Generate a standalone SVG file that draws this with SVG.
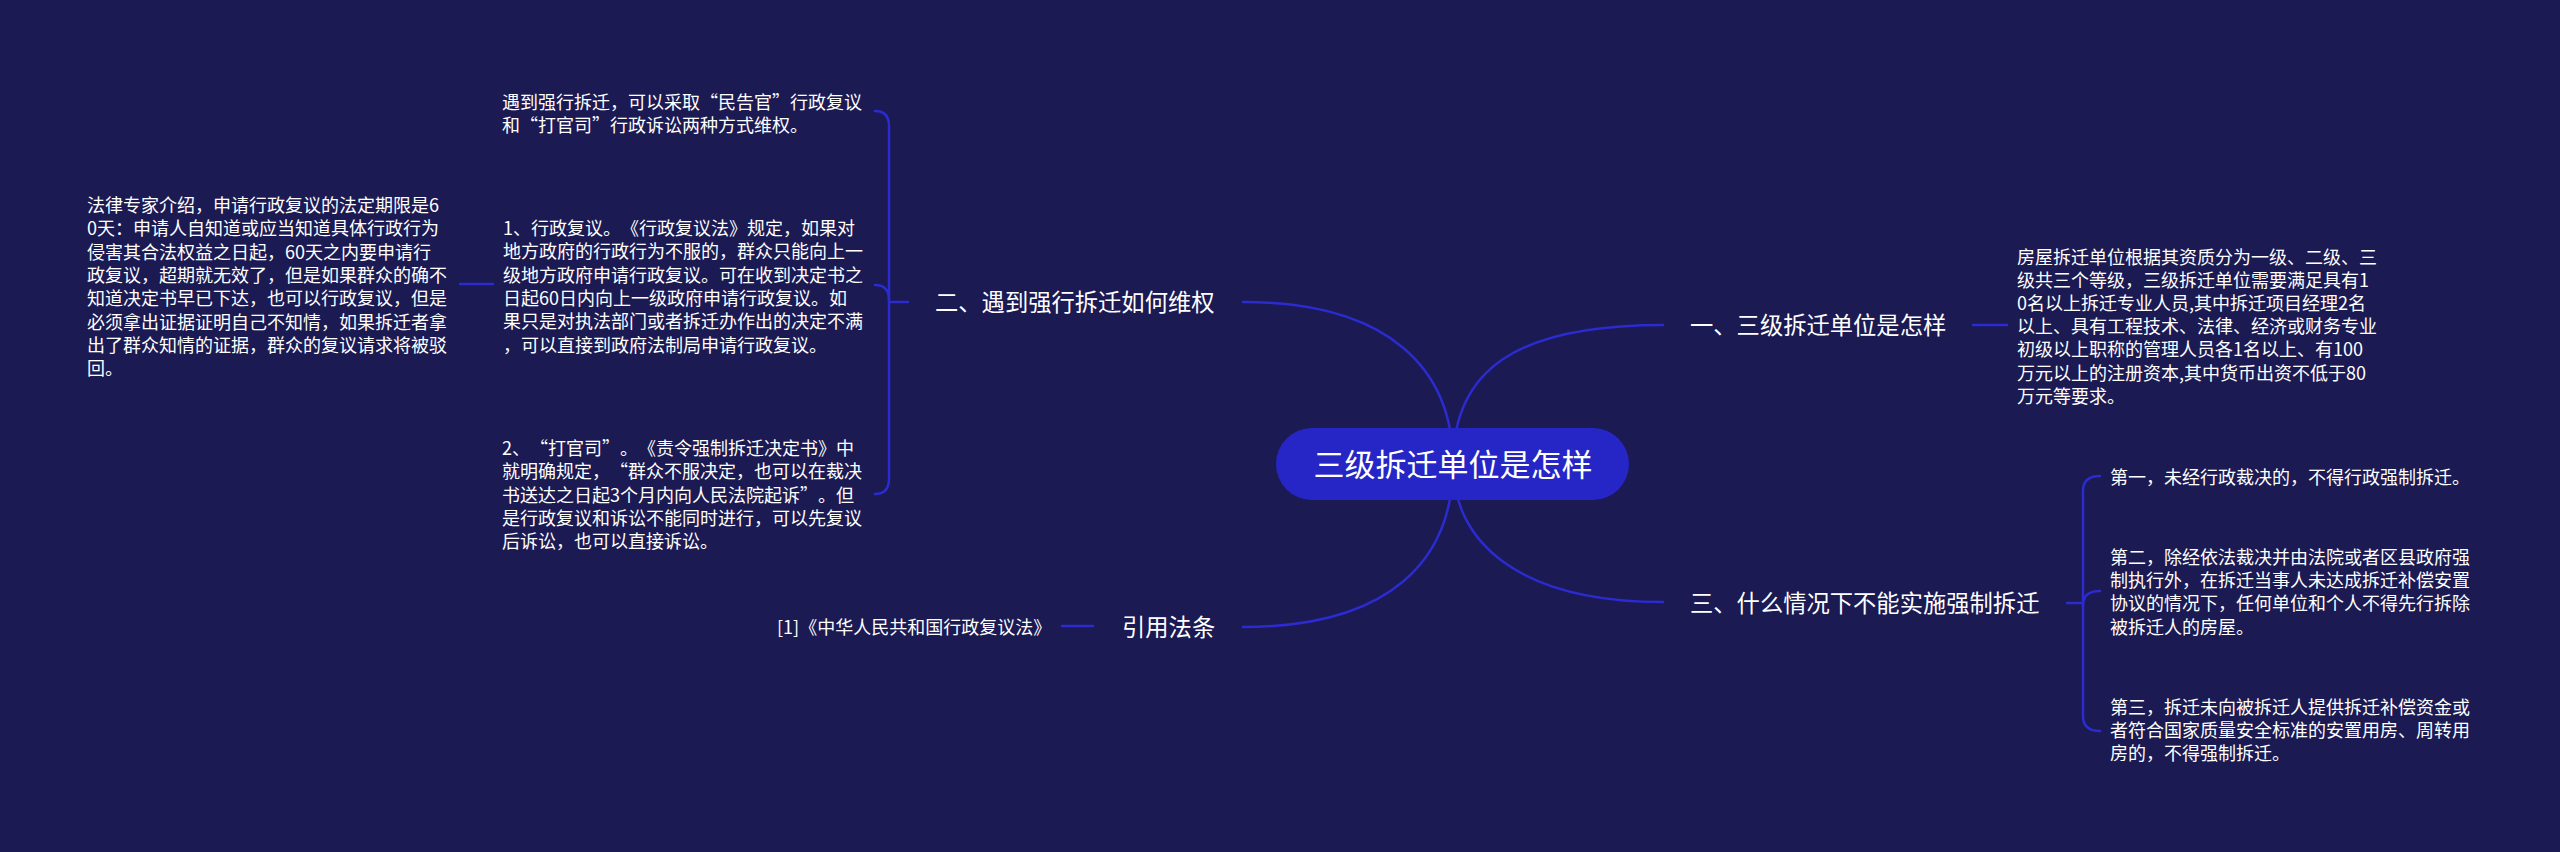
<svg xmlns="http://www.w3.org/2000/svg" width="2560" height="852" viewBox="0 0 2560 852">
<style>
.bg{fill:#1b1a53}
.ln{fill:none;stroke:#2b2bcf;stroke-width:2.5;stroke-linecap:round}
.t{fill:#ffffff;font-family:"Microsoft YaHei","Noto Sans CJK SC","Noto Sans",sans-serif;text-spacing-trim:space-all}
.s{font-size:18px}
.b{font-size:23.3px}
.c{font-size:31px}
</style>
<rect class="bg" x="0" y="0" width="2560" height="852"/>
<g id="connectors">
<path class="ln" d="M1453,464 C1453,370 1516,325 1663,325"/>
<path class="ln" d="M1453,464 C1453,540 1516,602 1663,602"/>
<path class="ln" d="M1453,464 C1453,370 1390,302 1243,302"/>
<path class="ln" d="M1453,464 C1453,560 1390,627 1243,627"/>
<path class="ln" d="M1973,325 H2007"/>
<path class="ln" d="M2067,603 H2083"/>
<path class="ln" d="M2083,603 V491 Q2083,476 2100,476"/>
<path class="ln" d="M2083,605 Q2083,591 2100,591"/>
<path class="ln" d="M2083,603 V716 Q2083,731 2100,731"/>
<path class="ln" d="M908,302 H889"/>
<path class="ln" d="M889,302 V126 Q889,111 875,111"/>
<path class="ln" d="M889,300 Q889,285 875,285"/>
<path class="ln" d="M889,302 V479 Q889,494 875,494"/>
<path class="ln" d="M493,284 H460"/>
<path class="ln" d="M1093,626 H1062"/>
</g>
<g id="root">
<rect x="1276" y="428" width="353" height="72" rx="36" fill="#2626c6"/>
<text class="t c" x="1453" y="476" text-anchor="middle">三级拆迁单位是怎样</text>
</g>
<g id="b1">
<text class="t b" x="1690" y="334">一、三级拆迁单位是怎样</text>
</g>
<g id="b1c1">
<text class="t s" x="2017" y="264"><tspan x="2017">房屋拆迁单位根据其资质分为一级、二级、三</tspan><tspan x="2017" dy="23.1">级共三个等级，三级拆迁单位需要满足具有1</tspan><tspan x="2017" dy="23.1">0名以上拆迁专业人员,其中拆迁项目经理2名</tspan><tspan x="2017" dy="23.1">以上、具有工程技术、法律、经济或财务专业</tspan><tspan x="2017" dy="23.1">初级以上职称的管理人员各1名以上、有100</tspan><tspan x="2017" dy="23.1">万元以上的注册资本,其中货币出资不低于80</tspan><tspan x="2017" dy="23.1">万元等要求。</tspan></text>
</g>
<g id="b3">
<text class="t b" x="1690" y="612">三、什么情况下不能实施强制拆迁</text>
</g>
<g id="b3c1">
<text class="t s" x="2110" y="484">第一，未经行政裁决的，不得行政强制拆迁。</text>
</g>
<g id="b3c2">
<text class="t s" x="2110" y="564"><tspan x="2110">第二，除经依法裁决并由法院或者区县政府强</tspan><tspan x="2110" dy="23.2">制执行外，在拆迁当事人未达成拆迁补偿安置</tspan><tspan x="2110" dy="23.2">协议的情况下，任何单位和个人不得先行拆除</tspan><tspan x="2110" dy="23.2">被拆迁人的房屋。</tspan></text>
</g>
<g id="b3c3">
<text class="t s" x="2110" y="714"><tspan x="2110">第三，拆迁未向被拆迁人提供拆迁补偿资金或</tspan><tspan x="2110" dy="23.2">者符合国家质量安全标准的安置用房、周转用</tspan><tspan x="2110" dy="23.2">房的，不得强制拆迁。</tspan></text>
</g>
<g id="b2">
<text class="t b" x="935" y="311">二、遇到强行拆迁如何维权</text>
</g>
<g id="b2c1">
<text class="t s" x="502" y="109"><tspan x="502">遇到强行拆迁，可以采取“民告官”行政复议</tspan><tspan x="502" dy="23.2">和“打官司”行政诉讼两种方式维权。</tspan></text>
</g>
<g id="b2c2">
<text class="t s" x="503" y="235"><tspan x="503">1、行政复议。《行政复议法》规定，如果对</tspan><tspan x="503" dy="23.3">地方政府的行政行为不服的，群众只能向上一</tspan><tspan x="503" dy="23.3">级地方政府申请行政复议。可在收到决定书之</tspan><tspan x="503" dy="23.3">日起60日内向上一级政府申请行政复议。如</tspan><tspan x="503" dy="23.3">果只是对执法部门或者拆迁办作出的决定不满</tspan><tspan x="503" dy="23.3">，可以直接到政府法制局申请行政复议。</tspan></text>
</g>
<g id="b2c2c1">
<text class="t s" x="87" y="212"><tspan x="87">法律专家介绍，申请行政复议的法定期限是6</tspan><tspan x="87" dy="23.3">0天：申请人自知道或应当知道具体行政行为</tspan><tspan x="87" dy="23.3">侵害其合法权益之日起，60天之内要申请行</tspan><tspan x="87" dy="23.3">政复议，超期就无效了，但是如果群众的确不</tspan><tspan x="87" dy="23.3">知道决定书早已下达，也可以行政复议，但是</tspan><tspan x="87" dy="23.3">必须拿出证据证明自己不知情，如果拆迁者拿</tspan><tspan x="87" dy="23.3">出了群众知情的证据，群众的复议请求将被驳</tspan><tspan x="87" dy="23.3">回。</tspan></text>
</g>
<g id="b2c3">
<text class="t s" x="502" y="455"><tspan x="502">2、“打官司”。《责令强制拆迁决定书》中</tspan><tspan x="502" dy="23.3">就明确规定，“群众不服决定，也可以在裁决</tspan><tspan x="502" dy="23.3">书送达之日起3个月内向人民法院起诉”。但</tspan><tspan x="502" dy="23.3">是行政复议和诉讼不能同时进行，可以先复议</tspan><tspan x="502" dy="23.3">后诉讼，也可以直接诉讼。</tspan></text>
</g>
<g id="b4">
<text class="t b" x="1122" y="636">引用法条</text>
</g>
<g id="b4c1">
<text class="t s" x="777" y="634">[1]《中华人民共和国行政复议法》</text>
</g>
</svg>
